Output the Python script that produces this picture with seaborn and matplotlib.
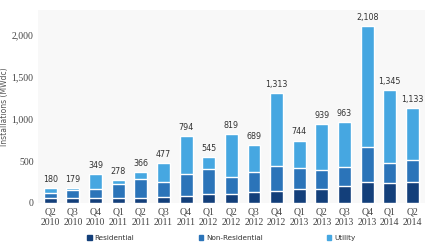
import matplotlib
matplotlib.use("Agg")
import matplotlib.pyplot as plt
import seaborn as sns
import pandas as pd
from matplotlib.patches import Patch

# quarterly installations (MWdc)
quarters = ["Q2\n2010", "Q3\n2010", "Q4\n2010", "Q1\n2011", "Q2\n2011", "Q3\n2011",
            "Q4\n2011", "Q1\n2012", "Q2\n2012", "Q3\n2012", "Q4\n2012", "Q1\n2013",
            "Q2\n2013", "Q3\n2013", "Q4\n2013", "Q1\n2014", "Q2\n2014"]
residential = [60, 55, 55, 55, 55, 75, 80, 103, 107, 127, 143, 170, 170, 198, 253, 242, 246]
non_residential = [59, 105, 116, 176, 234, 171, 261, 298, 202, 247, 302, 247, 226, 230, 413, 229, 266]
utility = [61, 19, 178, 47, 77, 231, 453, 144, 510, 315, 868, 327, 543, 535, 1442, 874, 621]

colors = {"Residential": "#133f7a", "Non-Residential": "#2b74b9", "Utility": "#46a7e1"}

df = pd.DataFrame({"quarter": quarters, "Residential": residential,
                   "Non-Residential": non_residential, "Utility": utility})
df["lower"] = df["Residential"]
df["middle"] = df["Residential"] + df["Non-Residential"]
df["total"] = df["middle"] + df["Utility"]

sns.set_style("white")
fig = plt.figure(figsize=(4.3, 2.5), dpi=100)
ax = fig.add_axes([0.088, 0.188, 0.9, 0.772])
ax.set_facecolor("#f8f8f8")

# stacked bars drawn back to front
for col, key in [("total", "Utility"), ("middle", "Non-Residential"), ("lower", "Residential")]:
    sns.barplot(data=df, x="quarter", y=col, color=colors[key], saturation=1,
                width=0.57, ax=ax, errorbar=None)

for i, t in enumerate(df["total"]):
    ax.annotate(f"{t:,}", (i, t), xytext=(0, 3), textcoords="offset points",
                ha="center", va="bottom", fontsize=5.8, color="#333333")

ax.set_xlim(-0.55, 16.55)
ax.set_ylim(0, 2300)
ax.set_yticks([0, 500, 1000, 1500, 2000])
ax.set_yticklabels([f"{v:,}" for v in [0, 500, 1000, 1500, 2000]])
ax.tick_params(axis="both", length=0, labelcolor="#444444", pad=3)
for lab in ax.get_xticklabels() + ax.get_yticklabels():
    lab.set_family("Liberation Serif")
    lab.set_fontsize(7)
ax.set_xlabel("")
ax.set_ylabel("Installations (MWdc)", fontsize=5.5, color="#555555")
ax.yaxis.set_label_coords(-0.075, 0.5)
sns.despine(ax=ax, left=True, bottom=True)

handles = [Patch(color=colors[k]) for k in ["Residential", "Non-Residential", "Utility"]]
fig.legend(handles, ["Residential", "Non-Residential", "Utility"], loc="center",
           bbox_to_anchor=(0.515, 0.048), ncol=3, frameon=False, fontsize=5.2,
           handlelength=0.6, handleheight=0.6, handletextpad=0.4, columnspacing=8.9,
           labelcolor="#333333")

fig.savefig("out.png", dpi=100, facecolor="white")
